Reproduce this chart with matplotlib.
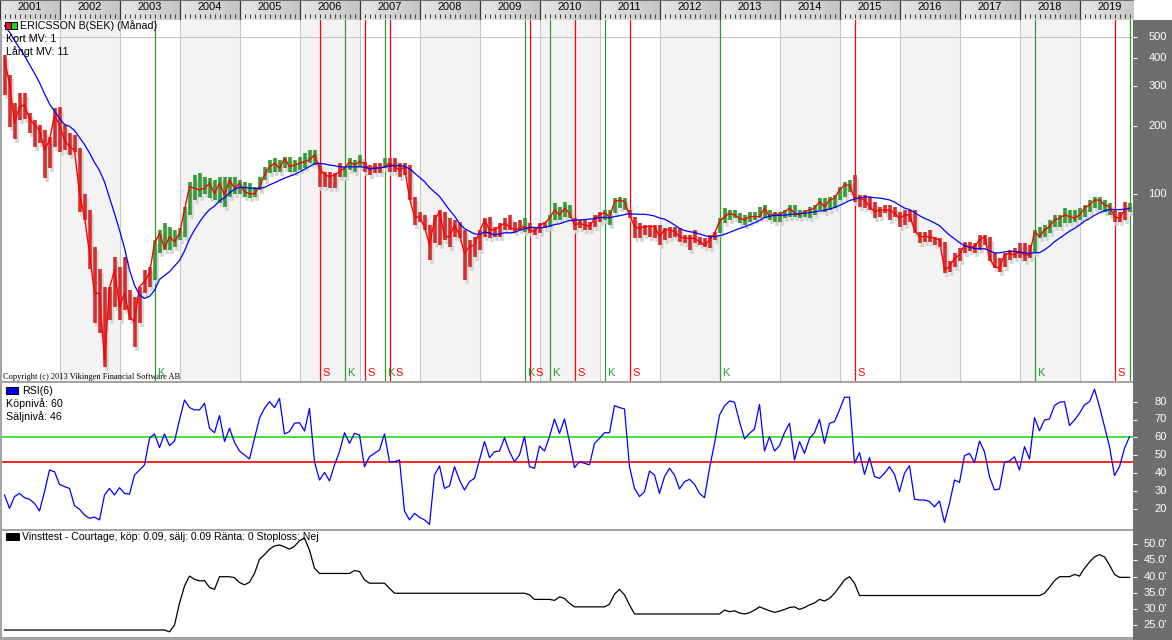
import numpy as np
import matplotlib
matplotlib.use("Agg")
import matplotlib.pyplot as plt
from matplotlib.patches import Rectangle
from matplotlib.colors import LinearSegmentedColormap
import matplotlib.transforms as mtransforms
from matplotlib.ticker import NullLocator

plt.rcParams['font.family'] = ['Liberation Sans', 'DejaVu Sans']

# ---------------- data (monthly, first bar = Feb 2001) ----------------
years = list(range(2001, 2020))

close = [
    394, 310, 206, 244, 248, 216, 202, 192, 156, 173,
    224, 202, 173, 162, 156, 100, 79, 54.3, 36, 36,
    18.2, 38, 45.7, 31.4, 36, 28.4, 26.9, 38.6, 40.6, 44.3,
    60.1, 66.6, 57.1, 64.4, 61.1, 66.6, 84.6, 107.5, 105.6, 104,
    105.6, 111.2, 100, 111.2, 98.7, 115, 105.6, 111.2, 102, 100,
    100, 107.5, 121.1, 131.9, 136.5, 129.7, 143.7, 131.9, 134.2, 136.5,
    138.8, 141.3, 148.7, 129.7, 121.1, 119.1, 121.1, 125.3, 129.7, 138.8,
    134.2, 138.8, 136.5, 127.5, 131.9, 129.7, 131.9, 136.5, 131.9, 127.5,
    131, 95.4, 79.1, 78.5, 71.4, 59.1, 76.4, 83.2, 64.4, 64.4,
    72.6, 65.5, 54.3, 58.1, 59.1, 67.8, 76.4, 69, 69, 71.4,
    73.8, 71.4, 69, 70.1, 71.4, 69, 67.8, 72.6, 73.8, 77.7,
    84.6, 80.4, 86.1, 81.8, 72.6, 73.8, 72.6, 71.4, 77.7, 80.4,
    82.4, 78.5, 92.2, 93.7, 92.2, 80.4, 71.4, 70.1, 71.4, 71.4,
    71.4, 64.4, 69, 69, 67.8, 64.4, 63.3, 63.3, 63.3, 61.2,
    59.1, 62.2, 66.6, 75.1, 79.1, 81.8, 80.4, 77.7, 76.4, 79.1,
    79.1, 79.1, 86.1, 79.1, 81.8, 80.4, 83.2, 86.1, 81.8, 80.4,
    83.2, 84.6, 86.1, 92.2, 87.6, 93.7, 95.4, 103.9, 109.3, 109.3,
    95.4, 95.4, 93.7, 87.6, 83.2, 84.6, 84.6, 84.6, 81.8, 77.7,
    80.4, 80.4, 69, 64.4, 64.4, 64.4, 63.3, 62.2, 45.8, 47.3,
    51.6, 53.4, 59.1, 58.1, 58.1, 62.2, 64.4, 51.6, 47.3, 46.6,
    53.4, 54.3, 53.4, 55.3, 53.4, 53.4, 67.8, 64.4, 69, 71.4,
    76.4, 77.7, 80.4, 79.1, 77.7, 80.4, 86.1, 89.1, 93.7, 93.7,
    89.1, 87.6, 79.1, 77.7, 84.6, 86.1,
]

high = [
    414, 338, 252, 280, 280, 228, 213, 202, 192, 179,
    240, 244, 202, 186, 182, 159, 100, 85, 58, 46,
    38.6, 38.6, 52.5, 47.3, 52.5, 37.3, 34.8, 38.6, 45.8, 47.3,
    62.2, 69, 73.8, 71.4, 69, 70.1, 87.6, 113.1, 121.1, 123.2,
    119.1, 117, 115.1, 119.1, 119.1, 119.1, 119.1, 115.1, 113.1, 111.2,
    107.5, 119.1, 131.9, 141.2, 143.7, 141.2, 146.2, 146.2, 141.2, 146.2,
    151, 156.5, 156.5, 136.5, 125.3, 125.3, 123.2, 136.5, 131.9, 143.7,
    141.2, 148.7, 139, 134.2, 136.5, 136.5, 143.7, 143.7, 143.7, 136.5,
    136.5, 134.2, 97, 83.2, 80.4, 72.6, 80.4, 84.6, 83.2, 77.7,
    76.4, 75.1, 69, 62.2, 64.4, 69, 77.7, 79.1, 71.4, 73.8,
    77.7, 80.4, 75.1, 76.4, 77.7, 73.8, 71.4, 73.8, 75.1, 80.4,
    90.6, 87.6, 92.2, 89.1, 77.7, 76.4, 76.4, 75.1, 80.4, 83.2,
    84.6, 84.6, 95.4, 97, 95.4, 84.6, 79.1, 73.8, 72.6, 72.6,
    72.6, 72.6, 70.1, 71.4, 71.4, 70.1, 65.5, 65.5, 69, 64.4,
    63.3, 65.5, 67.8, 77.7, 86.1, 84.6, 84.6, 81.8, 80.4, 83.2,
    83.2, 87.6, 89.1, 84.6, 83.2, 83.2, 84.6, 89.1, 89.1, 84.6,
    84.6, 87.6, 89.1, 95.4, 95.4, 97, 98.7, 107.5, 113.1, 115.1,
    121.1, 98.7, 98.7, 97, 92.2, 87.6, 89.1, 89.1, 87.6, 83.2,
    84.6, 84.6, 84.6, 67.8, 67.8, 69, 64.4, 63.3, 61.2, 49.9,
    54.3, 57.2, 61.2, 61.2, 60.2, 65.5, 65.5, 64.4, 54.3, 51.6,
    54.3, 56.2, 57.2, 60.2, 60.2, 59.1, 69, 71.4, 72.6, 76.4,
    80.4, 80.4, 86.1, 84.6, 84.6, 86.1, 89.1, 93.7, 97, 97,
    93.7, 90.6, 84.6, 83.2, 92.2, 90.6,
]

low = [
    275, 199, 176, 213, 216, 186, 162, 168, 117, 130,
    162, 154, 156, 149, 154, 83, 76, 46, 26.5, 24,
    17, 27.4, 31.4, 27.4, 30.4, 27.4, 20.8, 26.5, 36, 38.6,
    41.3, 54.3, 56.2, 56.2, 58.1, 62.2, 64.4, 80.4, 93.7, 97,
    100, 95.4, 93.7, 90.6, 87.6, 97, 100, 100, 97, 95.4,
    97, 104, 115.1, 123.2, 125.3, 125.3, 129.7, 125.3, 125.3, 127.5,
    129.7, 136.5, 134.2, 107.5, 107.5, 105.6, 105.6, 119.1, 119.1, 127.5,
    125.3, 131.9, 125.3, 121.1, 123.2, 123.2, 129.7, 125.3, 125.3, 119.1,
    121.1, 93.7, 72.6, 75.1, 69, 50.7, 60.2, 59.1, 62.2, 58.1,
    64.4, 63.3, 41.3, 47.3, 52.5, 56.2, 64.4, 63.3, 64.4, 64.4,
    69, 69, 67.8, 69, 67.8, 66.6, 65.5, 66.6, 70.1, 71.4,
    76.4, 76.4, 79.1, 77.7, 69, 70.1, 69, 69, 71.4, 75.1,
    76.4, 72.6, 81.8, 86.1, 84.6, 77.7, 63.3, 63.3, 65.5, 64.4,
    63.3, 59.1, 62.2, 63.3, 64.4, 61.2, 60.2, 56.2, 60.2, 59.1,
    58.1, 57.2, 62.2, 66.6, 73.8, 76.4, 77.7, 73.8, 72.6, 75.1,
    76.4, 77.7, 77.7, 76.4, 75.1, 75.1, 77.7, 79.1, 79.1, 77.7,
    79.1, 77.7, 80.4, 84.6, 83.2, 84.6, 86.1, 93.7, 97, 102.1,
    92.2, 87.6, 86.1, 84.6, 77.7, 79.1, 81.8, 76.4, 79.1, 71.4,
    72.6, 75.1, 66.6, 60.2, 61.2, 61.2, 59.1, 58.1, 44.3, 45,
    47.3, 49.9, 54.3, 55.3, 54.3, 56.2, 59.1, 49.9, 46.6, 45,
    47.3, 50.7, 51.6, 51.6, 49.9, 51.6, 54.3, 63.3, 64.4, 66.6,
    71.4, 71.4, 73.8, 73.8, 75.1, 76.4, 79.1, 83.2, 86.1, 84.6,
    83.2, 80.4, 75.1, 75.1, 76.4, 83.2,
]

# closes Apr 2000 - Jan 2001 (estimated from where the 11-month MV starts)
close_before = [700, 680, 640, 620, 600, 560, 540, 520, 480, 420]

rsi6 = [
    27.6, 20.1, 26.7, 28.5, 26.1, 25.2, 22.9, 18.6, 29.5, 41.6,
    40.7, 33.6, 32.3, 31.3, 21.6, 19.6, 16.4, 14.5, 15.2, 13.6,
    27.6, 31.3, 27.6, 31.7, 28.5, 28.0, 38.8, 41.6, 44.5, 59.4,
    61.9, 54.2, 61.9, 55.3, 57.9, 69.7, 81.0, 76.7, 75.4, 75.4,
    79.1, 65.1, 62.6, 72.2, 57.6, 65.1, 57.2, 52.3, 50.1, 47.8,
    59.4, 70.7, 76.3, 80.0, 76.7, 81.9, 61.9, 63.2, 67.9, 68.2,
    63.6, 76.3, 46.3, 36.0, 40.3, 35.5, 44.5, 51.9, 62.6, 56.6,
    62.2, 61.3, 43.5, 49.1, 51.0, 52.9, 61.9, 46.3, 46.3, 47.3,
    18.6, 13.6, 17.3, 15.1, 13.6, 11.1, 38.8, 43.9, 31.3, 32.7,
    43.5, 36.0, 30.4, 35.1, 37.0, 47.3, 57.6, 48.6, 51.9, 52.3,
    59.8, 51.9, 46.3, 50.1, 60.4, 43.5, 42.6, 55.1, 52.3, 60.4,
    70.3, 62.2, 70.3,
    57.6, 43.0, 46.3, 45.4, 44.5, 56.6, 59.4, 62.6, 62.6, 77.8,
    76.7, 75.9, 43.5, 31.3, 26.7, 29.5, 41.1, 38.8, 28.5, 37.9,
    42.6, 38.8, 31.0, 35.1, 36.4, 33.6, 28.5, 26.1, 42.6, 56.6,
    72.5, 77.6, 80.4, 79.7, 68.8, 59.1, 62.2, 64.7, 78.5, 52.3,
    60.4, 52.3, 55.3, 62.6, 67.9, 47.3, 57.6, 51.0, 59.4, 62.6,
    70.1, 56.6, 67.9, 68.8, 75.4, 82.5, 82.5, 45.4, 51.4, 39.2,
    48.6, 37.9, 37.0, 39.8, 43.5, 39.2, 29.5, 39.8, 44.1, 25.2,
    24.8, 24.8, 23.9, 21.0, 24.2, 12.2, 22.9, 36.0, 34.7, 49.7,
    51.0, 45.8, 57.9, 51.9, 37.9, 30.4, 31.0, 46.0, 46.7, 49.1,
    41.6, 54.8, 47.8, 71.0, 63.7, 69.7, 70.3, 77.8, 79.7, 80.0,
    66.6, 69.7, 73.5, 78.2, 80.0, 87.0, 77.2, 66.0, 54.8, 38.5,
    43.5, 53.8, 60.4,
]

# profit test (thousands)
equity = ([23.55] * 33
          + [23.0, 25.1, 31.8, 37.1, 40.2, 39.2, 38.7, 38.8, 36.7, 36.1,
             40.0, 40.0, 40.0, 39.7, 38.2, 37.5, 38.3, 41.0, 45.4, 46.8,
             48.5, 49.5, 49.8, 49.2, 48.5, 49.4, 51.1, 51.9, 48.2, 42.6]
          + [41.0] * 7 + [41.9, 41.6, 39.0] + [38.0] * 4 + [36.4]
          + [34.9] * 27 + [34.4] + [33.0] * 4 + [32.7, 33.8, 33.3, 31.8]
          + [30.7] * 7 + [31.5, 34.6, 36.1, 34.4, 31.3] + [28.5] * 18
          + [29.7, 29.2, 29.5, 28.8, 28.5, 28.9, 29.7, 30.7, 30.1, 29.5,
             29.0, 29.4, 29.9, 30.5, 30.7, 29.9, 30.5, 31.3, 31.9, 33.0,
             32.5, 33.3, 34.9, 36.9, 39.0, 40.0, 38.0]
          + [34.2] * 37
          + [34.9, 36.7, 38.8, 40.0, 40.0, 40.0, 40.7, 40.2, 42.6, 44.5,
             46.1, 46.8, 46.1, 43.6, 40.7]
          + [39.8] * 3)

buy_idx = [30, 68, 76, 104, 109, 120, 143, 206, 225]    # K
sell_idx = [63, 72, 77, 105, 114, 125, 170, 222]        # S

price_ticks = [100, 200, 300, 400, 500]
rsi_ticks = [20, 30, 40, 50, 60, 70, 80]
rsi_buy_level, rsi_sell_level = 60, 46
equity_ticks = [25, 30, 35, 40, 45, 50]
ma_len = 11

title_txt = "ERICSSON B(SEK) (Månad)"
short_mv_txt = "Kort MV: 1"
long_mv_txt = "Långt MV: 11"
rsi_txt = "RSI(6)"
buy_txt = "Köpnivå: 60"
sell_txt = "Säljnivå: 46"
test_txt = "Vinsttest - Courtage, köp: 0.09, sälj: 0.09 Ränta: 0 Stoploss: Nej"
copy_txt = "Copyright (c) 2013 Vikingen Financial Software AB"

n = len(close)
assert len(high) == n and len(low) == n and len(rsi6) == n and len(equity) == n

# derived
allc = np.array(close_before + close, dtype=float)
ma = np.convolve(allc, np.ones(ma_len) / ma_len, mode='valid')[-n:]
xi = np.arange(n)

state = np.zeros(n, dtype=int)
cur = 0
events = {i: 1 for i in buy_idx}
events.update({i: 0 for i in sell_idx})
for i in range(n):
    if i in events:
        cur = events[i]
    state[i] = cur
RED, GREEN = '#d32f2f', '#389a38'
bar_colors = [GREEN if s else RED for s in state]


def jan(y):
    return (y - 2001) * 12 - 1


# ---------------- figure layout (pixel based) ----------------
W, H = 1172, 640
fig = plt.figure(figsize=(W / 100, H / 100), dpi=100, facecolor='#a4a4a4')

BAR0_PX, STEP_PX = 4.5, 5.0
PLOT_X0, PLOT_X1 = 2, 1133


def add_ax(x0, y0, x1, y1):
    a = fig.add_axes([x0 / W, 1 - y1 / H, (x1 - x0) / W, (y1 - y0) / H])
    a.set_xlim((x0 - BAR0_PX) / STEP_PX, (x1 - BAR0_PX) / STEP_PX)
    for s in a.spines.values():
        s.set_visible(False)
    a.set_xticks([])
    return a


def fig_rect(x0, y0, x1, y1, fc, ec='none', lw=0, z=-1):
    fig.add_artist(Rectangle((x0 / W, 1 - y1 / H), (x1 - x0) / W, (y1 - y0) / H,
                             transform=fig.transFigure, facecolor=fc,
                             edgecolor=ec, linewidth=lw, zorder=z))


def fig_txt(x, y, s, **kw):
    fig.text(x / W, 1 - y / H, s, va='center', ha='left', **kw)


# right gray value-axis band and header corner
fig_rect(1133, 20, W, H, '#6e6e6e')
fig_rect(1133, 0, W, 20, 'white')


def right_labels(ax, ticks, labels):
    ax.set_yticks(ticks)
    ax.yaxis.set_minor_locator(NullLocator())
    ax.tick_params(axis='y', which='both', left=False, right=True,
                   labelleft=False, labelright=False, direction='out',
                   length=3, width=0.8, color='white')
    tr = mtransforms.offset_copy(
        mtransforms.blended_transform_factory(ax.transAxes, ax.transData),
        fig=fig, x=34, y=0, units='dots')
    for v, lab in zip(ticks, labels):
        ax.text(1.0, v, lab, transform=tr, ha='right', va='center',
                color='white', fontsize=8, clip_on=False)


# ---------------- header with years ----------------
axh = add_ax(0, 0, 1133, 20)
axh.set_ylim(0, 1)
hcmap = LinearSegmentedColormap.from_list('hdr', ['#e8e8e8', '#c4c4c4'])
grad = np.linspace(0, 1, 64).reshape(1, -1)
for y in years:
    axh.imshow(grad, extent=[jan(y), jan(y + 1), 0, 1], aspect='auto',
               cmap=hcmap, vmin=0, vmax=1, interpolation='bilinear', zorder=0)
    axh.text((jan(y) + jan(y + 1)) / 2, 0.63, str(y), ha='center', va='center',
             fontsize=7.9, color='black', zorder=3, clip_on=True)
axh.set_xlim((0 - BAR0_PX) / STEP_PX, (1133 - BAR0_PX) / STEP_PX)
axh.set_ylim(0, 1)
axh.vlines(np.arange(-1, n + 2), 0.08, 0.3, color='#3a3a3a', lw=0.7, zorder=2)
axh.vlines([jan(y) for y in years + [2020]], 0, 1, color='#3a3a3a', lw=0.9, zorder=2)
axh.spines['top'].set_visible(True)
axh.spines['top'].set_color('#707070')
axh.set_yticks([])

# ---------------- main price panel ----------------
axm = add_ax(PLOT_X0, 20, PLOT_X1, 381)
axm.set_facecolor('white')
axm.set_yscale('log')
axm.set_ylim(14.66, 593)
for y in years:
    if y % 2 == 0:
        axm.axvspan(jan(y), jan(y + 1), color='#f3f3f3', lw=0, zorder=0)
    axm.axvline(jan(y), color='#c8c8c8', lw=0.8, zorder=0.5)
axm.axhline(500, color='#c8c8c8', lw=0.8, zorder=0.5)

for i in buy_idx:
    axm.axvline(i, color='#2f9a2f', lw=0.9, zorder=1)
for i in sell_idx:
    axm.axvline(i, color='#ff0000', lw=0.9, zorder=1)

shadow_tr = mtransforms.offset_copy(axm.transData, fig=fig, x=2, y=-4, units='dots')
axm.vlines(xi, low, high, colors='#d6d6d6', lw=2.6, zorder=2, transform=shadow_tr)
axm.vlines(xi, low, high, colors=bar_colors, lw=2.6, zorder=3)
axm.plot(xi, close, color='#ff0000', lw=1.0, zorder=4)
axm.plot(xi, ma, color='#0000ff', lw=0.9, zorder=4)

base_tr = mtransforms.blended_transform_factory(axm.transData, axm.transAxes)
k_tr = mtransforms.offset_copy(base_tr, fig=fig, x=2.5, y=0, units='dots')
for i in buy_idx:
    axm.text(i, 0.008, 'K', transform=k_tr, color='#2f9a2f', fontsize=8,
             ha='left', va='bottom', zorder=5, clip_on=True)
for i in sell_idx:
    # a sell right after a buy: put the S just after the K glyph ("KS")
    dx = 5.5 if (i - 1) in buy_idx else 2.5
    s_tr = mtransforms.offset_copy(base_tr, fig=fig, x=dx, y=0, units='dots')
    axm.text(i, 0.008, 'S', transform=s_tr, color='#ff0000', fontsize=8,
             ha='left', va='bottom', zorder=5, clip_on=True)
axm.text(0.001, 0.012, copy_txt, transform=axm.transAxes, fontsize=6,
         family=['Liberation Serif', 'DejaVu Serif'], va='center', ha='left', zorder=4.5)
right_labels(axm, price_ticks, [str(v) for v in price_ticks])

# legend/title of main panel
fig_rect(5, 22, 11, 29, '#ee1111', ec='black', lw=0.7, z=5)
fig_rect(11, 22, 17, 29, '#11dd11', ec='black', lw=0.7, z=5)
fig_txt(20, 25.5, title_txt, fontsize=7.7, zorder=6)
fig_txt(6.5, 39, short_mv_txt, fontsize=7.7, zorder=6)
fig_txt(6.5, 52, long_mv_txt, fontsize=7.7, zorder=6)

# ---------------- RSI panel ----------------
axr = add_ax(PLOT_X0, 383, PLOT_X1, 529)
axr.set_facecolor('white')
axr.set_ylim(8.5, 90.5)
axr.axhline(rsi_buy_level, color='#22dd22', lw=1.2, zorder=1)
axr.axhline(rsi_sell_level, color='#ff0000', lw=1.2, zorder=1)
axr.plot(xi, rsi6, color='#0000ff', lw=0.9, zorder=2)
right_labels(axr, rsi_ticks, [str(v) for v in rsi_ticks])
fig_rect(6, 387, 18, 394, '#0000ff', ec='black', lw=0.7, z=5)
fig_txt(22, 391, rsi_txt, fontsize=7.7, zorder=6)
fig_txt(6.5, 403.5, buy_txt, fontsize=7.7, zorder=6)
fig_txt(6.5, 416.5, sell_txt, fontsize=7.7, zorder=6)

# ---------------- profit test panel ----------------
axe = add_ax(PLOT_X0, 531, PLOT_X1, 637)
axe.set_facecolor('white')
axe.set_ylim(21.4, 54.1)
axe.plot(xi, equity, color='black', lw=0.9, zorder=2)
right_labels(axe, equity_ticks, [f"{v:.1f}'" for v in equity_ticks])
fig_rect(6, 533, 19, 540, 'black', ec='black', lw=0.7, z=5)
fig_txt(22, 536.5, test_txt, fontsize=7.6, zorder=6)

fig.savefig('out.png', dpi=100, facecolor=fig.get_facecolor())
